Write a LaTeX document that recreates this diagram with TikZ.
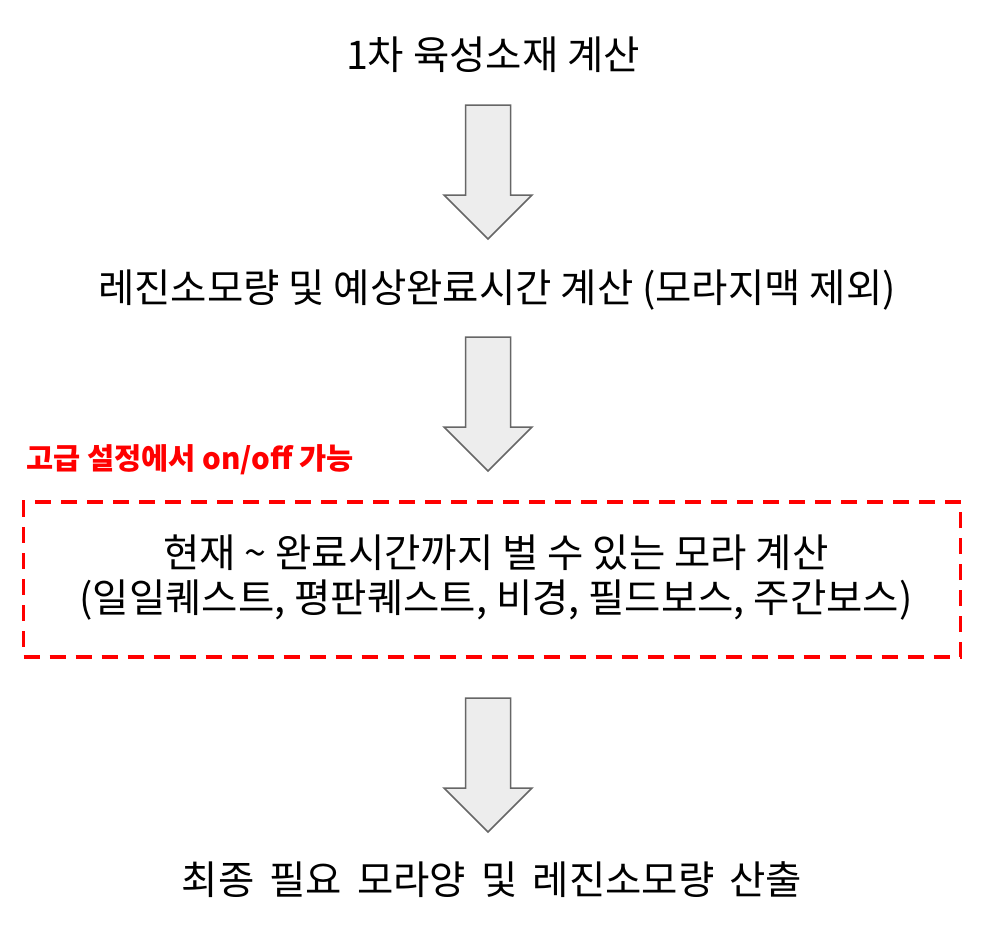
\documentclass[tikz,border=0pt]{standalone}
\usepackage{fontspec}
\setmainfont{Noto Sans CJK KR}
\newfontfamily\widespacefont[WordSpace=1.7]{Noto Sans CJK KR}
\begin{document}
\begin{tikzpicture}[x=1pt,y=-1pt,
  steptext/.style={font=\fontsize{39.5}{45}\selectfont, text=black, inner sep=0pt, align=center},
  redlabel/.style={font=\fontsize{29.5}{34}\selectfont\bfseries, text=red, inner sep=0pt},
  blockarr/.style={draw=black!60, fill=black!7, line width=1.5pt, line join=miter},
  dashbox/.style={draw=red, line width=3.5pt, dash pattern=on 16pt off 10pt, inner sep=0pt}
]
\useasboundingbox (0,0) rectangle (1000,930);
\fill[white] (0,0) rectangle (1000,930);

\newcommand{\blockarrow}[2]{%
  \draw[blockarr] (#1,#2) ++(-22.5,0) -- ++(45,0) -- ++(0,90) -- ++(21.5,0)
     -- ++(-44,44) -- ++(-44,-44) -- ++(21.5,0) -- cycle;}

\node[steptext] (t1) at (493,55) {1차 육성소재 계산};
\node[steptext] (t2) at (497,290) {레진소모량 및 예상완료시간 계산 (모라지맥 제외)};
\node[dashbox, minimum width=937pt, minimum height=155pt] (box) at (492,579.5) {};
\node[steptext] (t3) at (496,578) {현재 \textasciitilde{} 완료시간까지 벌 수 있는 모라 계산\\(일일퀘스트, 평판퀘스트, 비경, 필드보스, 주간보스)};
\node[redlabel] (lab) at (190,460) {고급 설정에서 on/off 가능};
\node[steptext, font=\widespacefont\fontsize{39.5}{45}\selectfont] (t4) at (492,880) {최종 필요 모라양 및 레진소모량 산출};

\coordinate (a1) at (488,105);
\coordinate (a2) at (488,337);
\coordinate (a3) at (488,698);
\blockarrow{488}{105}
\blockarrow{488}{337}
\blockarrow{488}{698}
\end{tikzpicture}
\end{document}
